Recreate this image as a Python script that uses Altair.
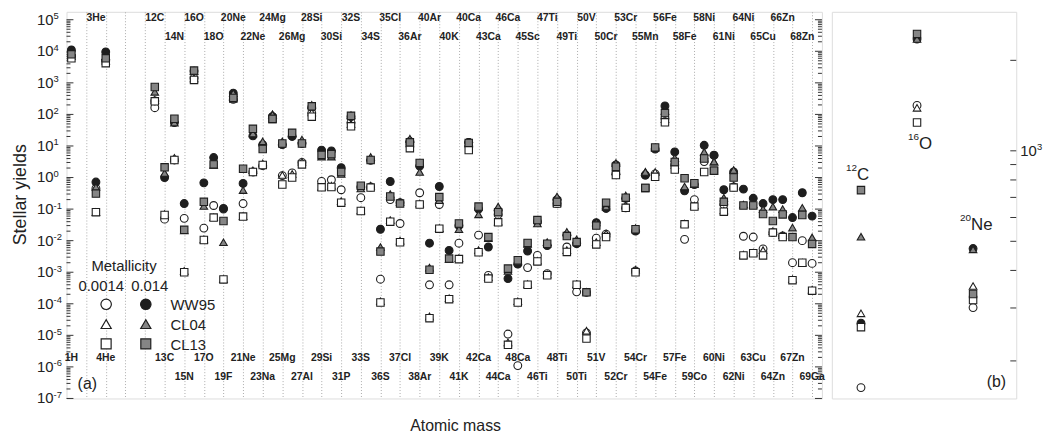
import altair as alt
import pandas as pd

FONT = "Liberation Sans"

# ---------------- data ----------------
isotopes = ["1H", "3He", "4He",
            "12C", "13C", "14N", "15N", "16O", "17O", "18O", "19F", "20Ne", "21Ne", "22Ne", "23Na",
            "24Mg", "25Mg", "26Mg", "27Al", "28Si", "29Si", "30Si", "31P",
            "32S", "33S", "34S", "36S", "35Cl", "37Cl", "36Ar", "38Ar", "40Ar",
            "39K", "40K", "41K", "40Ca", "42Ca", "43Ca", "44Ca", "46Ca", "48Ca", "45Sc",
            "46Ti", "47Ti", "48Ti", "49Ti", "50Ti", "50V", "51V",
            "50Cr", "52Cr", "53Cr", "54Cr", "55Mn", "54Fe", "56Fe", "57Fe", "58Fe", "59Co",
            "58Ni", "60Ni", "61Ni", "62Ni", "64Ni", "63Cu", "65Cu",
            "64Zn", "66Zn", "67Zn", "68Zn", "69Ga"]
x_index = [0.5, 3, 4] + list(range(9, 77))

ww95_z0014 = [7000, 0.45, 5000,
              163, 0.048, 3.6, 0.051, 1416, 0.025, 0.13, 0.1, 301, 0.15, 1.5, 2.4,
              85, 1.15, 1.4, 3.0, 110, 0.75, 0.85, 0.41,
              55, 0.23, 0.5, 6e-4, 0.2, 0.035, 13, 0.33, 4e-4,
              0.14, 4e-4, 0.0083, 13, 0.015, 7.9e-4, 0.068, 1.1e-5, 1.1e-6, 0.0014,
              0.0034, 9e-4, 0.15, 0.0063, 2.4e-4, 1.2e-5, 0.012,
              0.016, 1.3, 0.11, 0.0011, 1.2, 1.3, 75, 2.5, 0.011, 0.2,
              3.2, 5.0, 0.14, 0.5, 0.0138, 0.013, 0.0055,
              0.018, 0.014, 0.002, 0.01, 0.0019]
ww95_z014 = [11000, 0.72, 9500,
             267, 1.0, 55, 0.15, 2355, 0.68, 4.3, 0.105, 473, 0.65, 21, 11,
             85, 11, 20, 12, 170, 7.4, 7.0, 2.05,
             85, 0.5, 3.5, 0.023, 0.75, 0.16, 14, 2.3, 0.0083,
             0.52, 0.0049, 0.03, 13, 0.1, 0.0063, 0.09, 6.3e-4, 0.0018, 0.0047,
             0.04, 0.007, 0.2, 0.015, 0.008, 2.3e-4, 0.037,
             0.105, 2.5, 0.22, 0.02, 1.2, 8, 186, 6.5, 0.38, 0.6,
             10.5, 5.1, 0.41, 1.5, 0.43, 0.22, 0.15,
             0.2, 0.2, 0.054, 0.33, 0.06]
cl04_z0014 = [7000, 0.08, 5000,
              288, 0.07, 4.2, 0.0011, 1390, 0.011, 0.055, 6e-4, 355, 0.06, 1.7, 2.8,
              100, 1.2, 1.3, 3.2, 115, 0.5, 0.55, 0.18,
              50, 0.09, 0.55, 1.2e-4, 0.045, 0.01, 12, 0.15, 4e-5,
              0.025, 1.5e-4, 0.0028, 12, 0.005, 7e-4, 0.04, 6e-6, 1.2e-4, 4.2e-4,
              0.0023, 8.5e-4, 0.16, 0.005, 4.2e-4, 1.4e-5, 0.009,
              0.017, 1.6, 0.13, 0.0012, 1.5, 1.5, 70, 2.5, 0.035, 0.13,
              5, 3.2, 0.09, 0.55, 0.0036, 0.0042, 0.005,
              0.02, 0.015, 6e-4, 0.002, 2.8e-4]
cl04_z014 = [9000, 0.5, 7000,
             518, 1.4, 55, 0.021, 2355, 0.125, 2.5, 0.0089, 470, 0.4, 25, 14,
             100, 14, 25, 16, 200, 4.6, 4.6, 1.3,
             95, 0.45, 4.5, 0.0063, 0.3, 0.17, 17, 1.5, 0.0014,
             0.19, 0.0026, 0.023, 13, 0.068, 0.012, 0.12, 0.0011, 0.0022, 0.0079,
             0.035, 0.009, 0.25, 0.019, 0.011, 2.4e-4, 0.038,
             0.12, 2.9, 0.27, 0.025, 1.5, 9, 130, 4.2, 0.52, 0.62,
             6.5, 3.2, 0.23, 1.74, 0.14, 0.14, 0.1,
             0.12, 0.1, 0.026, 0.11, 0.0127]
cl13_z0014 = [6000, 0.08, 4200,
              259, 0.065, 3.6, 0.001, 1242, 0.0105, 0.054, 5.9e-4, 319, 0.058, 1.5, 2.5,
              72, 0.6, 1.0, 2.6, 85, 0.49, 0.5, 0.16,
              42, 0.087, 0.48, 1.1e-4, 0.04, 0.0089, 8.5, 0.14, 3.5e-5,
              0.024, 1.4e-4, 0.0026, 7.4, 0.0043, 6.3e-4, 0.038, 5e-6, 1.1e-4, 4e-4,
              0.0022, 8e-4, 0.15, 0.0044, 4e-4, 7.9e-6, 0.0076,
              0.013, 1.2, 0.11, 0.001, 0.47, 1.05, 56, 1.8, 0.033, 0.12,
              1.5, 1.65, 0.083, 0.48, 0.0034, 0.004, 0.0034,
              0.018, 0.013, 5.6e-4, 0.002, 2.6e-4]
cl13_z014 = [8000, 0.31, 6000,
             740, 2.1, 73, 0.022, 2449, 0.17, 2.6, 0.042, 334, 1.9, 35, 8,
             72, 12, 26, 12, 180, 5.2, 5.5, 1.5,
             90, 0.55, 3.6, 0.0045, 0.25, 0.15, 13, 2.9, 0.0012,
             0.24, 0.0027, 0.035, 12.5, 0.12, 0.013, 0.08, 0.0013, 0.0024, 0.0085,
             0.045, 0.008, 0.17, 0.014, 0.009, 2.3e-4, 0.03,
             0.16, 2.2, 0.23, 0.023, 0.47, 9, 110, 3.1, 0.95, 0.66,
             4, 1.65, 0.17, 1.0, 0.13, 0.13, 0.07,
             0.042, 0.068, 0.013, 0.065, 0.0079]

models = ["WW95", "CL04", "CL13"]
metallicities = ["0.0014", "0.014"]
zoom_isotopes = ["12C", "16O", "20Ne"]
zoom_mass = ["12", "16", "20"]
zoom_elem = ["C", "O", "Ne"]
zoom_x = [1, 2, 3]
y_exponents = list(range(-7, 6))
right_ticks = [200, 300, 400, 500, 600, 700, 800, 900, 1000, 2000]
right_label_value = 1000

series = {
    "ww95_lo": ww95_z0014, "ww95_hi": ww95_z014,
    "cl04_lo": cl04_z0014, "cl04_hi": cl04_z014,
    "cl13_lo": cl13_z0014, "cl13_hi": cl13_z014,
}
for k, v in series.items():
    assert len(v) == len(isotopes), (k, len(v))

rows = []
for i, (iso, xi) in enumerate(zip(isotopes, x_index)):
    for k, vals in series.items():
        rows.append({"iso": iso, "x": xi, "series": k, "value": vals[i]})
df = pd.DataFrame(rows)

zrows = []
for iso, zx in zip(zoom_isotopes, zoom_x):
    i = isotopes.index(iso)
    for k, vals in series.items():
        zrows.append({"iso": iso, "x": zx, "series": k, "value": vals[i]})
zdf = pd.DataFrame(zrows)


def label_row(iso, xi):
    if iso in ("1H", "4He"):
        return "bot1"
    if iso == "3He":
        return "top1"
    return {1: "top1", 2: "bot1", 3: "top2", 0: "bot2"}[int(xi) % 4]


ldf = pd.DataFrame({"iso": isotopes, "x": x_index,
                    "row": [label_row(a, b) for a, b in zip(isotopes, x_index)]})

# ---------------- styles ----------------
INK = "#1e1e1e"
GRAY = "#858585"
TXT = "#222"
styles = {
    "ww95_lo": ("circle", "white"),
    "ww95_hi": ("circle", INK),
    "cl04_lo": ("triangle-up", "white"),
    "cl04_hi": ("triangle-up", GRAY),
    "cl13_lo": ("square", "white"),
    "cl13_hi": ("square", GRAY),
}
sizes = {"circle": 62, "triangle-up": 58, "square": 56}

WL, WR, H = 762, 186, 390

ysc_L = alt.Scale(type="log", domain=[1e-7, 1.78e5], nice=False)
xsc_L = alt.Scale(domain=[0, 77], nice=False, zero=False)
ysc_R = alt.Scale(type="log", domain=[150, 2900], nice=False)
xsc_R = alt.Scale(domain=[0.48, 3.77], nice=False, zero=False)

xax_L = alt.Axis(values=list(range(2, 77, 2)), grid=True, gridDash=[1, 2], gridColor="#ababab",
                 gridWidth=1, labels=False, ticks=False, domain=False, title="Atomic mass",
                 titleFont=FONT, titleFontSize=16, titleFontWeight="normal", titleColor=TXT,
                 titleX=392, titleY=27, titleBaseline="middle")
yax_L = alt.Axis(values=[1e-7], labels=False, grid=False, ticks=False, domain=False,
                 title="Stellar yields", titleFont=FONT, titleFontSize=18,
                 titleFontWeight="normal", titleColor=TXT, titlePadding=37, titleY=184)


def points(data, key, xsc, ysc, xax, yax):
    shape, fill = styles[key]
    return alt.Chart(data[data.series == key]).mark_point(
        shape=shape, filled=True, fill=fill, stroke=INK, strokeWidth=1.1,
        size=sizes[shape], opacity=1
    ).encode(x=alt.X("x:Q", scale=xsc, axis=xax), y=alt.Y("value:Q", scale=ysc, axis=yax))


one = pd.DataFrame({"k": [0]})


def ann_text(txt, x, y, size, align="center", weight="normal"):
    return alt.Chart(one).mark_text(text=txt, fontSize=size, align=align, baseline="middle",
                                    font=FONT, fontWeight=weight, color=TXT
                                    ).encode(x=alt.value(x), y=alt.value(y))


def ann_symbol(key, x, y):
    shape, fill = styles[key]
    return alt.Chart(one).mark_point(shape=shape, filled=True, fill=fill, stroke=INK,
                                     strokeWidth=1.2, size=sizes[shape] * 1.8, opacity=1
                                     ).encode(x=alt.value(x), y=alt.value(y))


# ---------------- left panel ----------------
major_L = pd.DataFrame({"v": [10.0 ** e for e in y_exponents],
                        "base": ["10"] * len(y_exponents),
                        "exp": [str(e) for e in y_exponents]})
minor_L = pd.DataFrame({"v": [m * 10.0 ** e for e in y_exponents[:-1] for m in range(2, 10)]})

left_layers = []
for dfv, ln in ((major_L, 7), (minor_L, 4)):
    left_layers.append(alt.Chart(dfv).mark_rule(color="#333", strokeWidth=1).encode(
        y=alt.Y("v:Q", scale=ysc_L, axis=yax_L), x=alt.value(0), x2=alt.value(ln)))
    left_layers.append(alt.Chart(dfv).mark_rule(color="#333", strokeWidth=1).encode(
        y=alt.Y("v:Q", scale=ysc_L, axis=yax_L), x=alt.value(WL), x2=alt.value(WL - ln)))

# tick labels 10^n drawn as text so the exponent can be raised
left_layers.append(alt.Chart(major_L).mark_text(
    font=FONT, fontSize=15, color=TXT, align="right", baseline="middle"
).encode(y=alt.Y("v:Q", scale=ysc_L, axis=yax_L), x=alt.value(-13), text="base:N"))
left_layers.append(alt.Chart(major_L).mark_text(
    font=FONT, fontSize=9.5, color=TXT, align="left", baseline="middle", dy=-3.5
).encode(y=alt.Y("v:Q", scale=ysc_L, axis=yax_L), x=alt.value(-13), text="exp:N"))

for key in series:
    left_layers.append(points(df, key, xsc_L, ysc_L, xax_L, yax_L))

row_y = {"top1": 6, "top2": 25, "bot1": 349, "bot2": 368}
for r, yy in row_y.items():
    left_layers.append(alt.Chart(ldf[ldf.row == r]).mark_text(
        font=FONT, fontSize=10.5, fontWeight="bold", color=TXT, baseline="middle"
    ).encode(x=alt.X("x:Q", scale=xsc_L, axis=xax_L), y=alt.value(yy), text="iso:N"))

# legend
left_layers.append(ann_text("Metallicity", 58, 256, 15))
left_layers.append(ann_text(metallicities[0], 35, 277, 15))
left_layers.append(ann_text(metallicities[1], 84, 277, 15))
for j, (m, lo, hi) in enumerate(zip(models, ["ww95_lo", "cl04_lo", "cl13_lo"],
                                   ["ww95_hi", "cl04_hi", "cl13_hi"])):
    yy = 295 + 20 * j
    left_layers.append(ann_symbol(lo, 40, yy))
    left_layers.append(ann_symbol(hi, 80, yy))
    left_layers.append(ann_text(m, 105, yy + 1, 15, align="left"))
left_layers.append(ann_text("(a)", 21, 375, 16))

left = alt.layer(*left_layers).properties(width=WL, height=H)

# ---------------- right panel ----------------
rt = pd.DataFrame({"v": right_ticks})
rl = pd.DataFrame({"v": [right_label_value], "base": ["10"], "exp": ["3"]})
right_layers = [alt.Chart(rt).mark_rule(color="#333", strokeWidth=1).encode(
    y=alt.Y("v:Q", scale=ysc_R, axis=None), x=alt.value(WR), x2=alt.value(WR - 6))]
right_layers.append(alt.Chart(rl).mark_text(
    font=FONT, fontSize=15, color=TXT, align="left", baseline="middle"
).encode(y=alt.Y("v:Q", scale=ysc_R, axis=None), x=alt.value(WR + 4), text="base:N"))
right_layers.append(alt.Chart(rl).mark_text(
    font=FONT, fontSize=9.5, color=TXT, align="left", baseline="middle", dy=-4
).encode(y=alt.Y("v:Q", scale=ysc_R, axis=None), x=alt.value(WR + 21), text="exp:N"))

for key in series:
    right_layers.append(points(zdf, key, xsc_R, ysc_R, None, None))

zl = pd.DataFrame({"mass": zoom_mass, "elem": zoom_elem, "x": zoom_x})
lab_y = [165, 133, 215]
lab_dx = [-4, 2, -2]
for i in range(3):
    right_layers.append(alt.Chart(zl.iloc[[i]]).mark_text(
        font=FONT, fontSize=17, color=TXT, baseline="middle", align="left", dx=lab_dx[i]
    ).encode(x=alt.X("x:Q", scale=xsc_R, axis=None), y=alt.value(lab_y[i]), text="elem:N"))
    right_layers.append(alt.Chart(zl.iloc[[i]]).mark_text(
        font=FONT, fontSize=10, color=TXT, baseline="middle", align="right", dx=lab_dx[i]
    ).encode(x=alt.X("x:Q", scale=xsc_R, axis=None), y=alt.value(lab_y[i] - 7), text="mass:N"))
right_layers.append(ann_text("(b)", 166, 373, 16))

right = alt.layer(*right_layers).properties(width=WR, height=H)

chart = alt.hconcat(left, right, spacing=5).properties(
    padding={"left": 3, "top": 0, "right": 0, "bottom": 0}
).configure_view(stroke="#3a3a3a", strokeWidth=1.5).configure(font=FONT)

chart.save("out.html", embed_options={"renderer": "svg", "actions": False})
